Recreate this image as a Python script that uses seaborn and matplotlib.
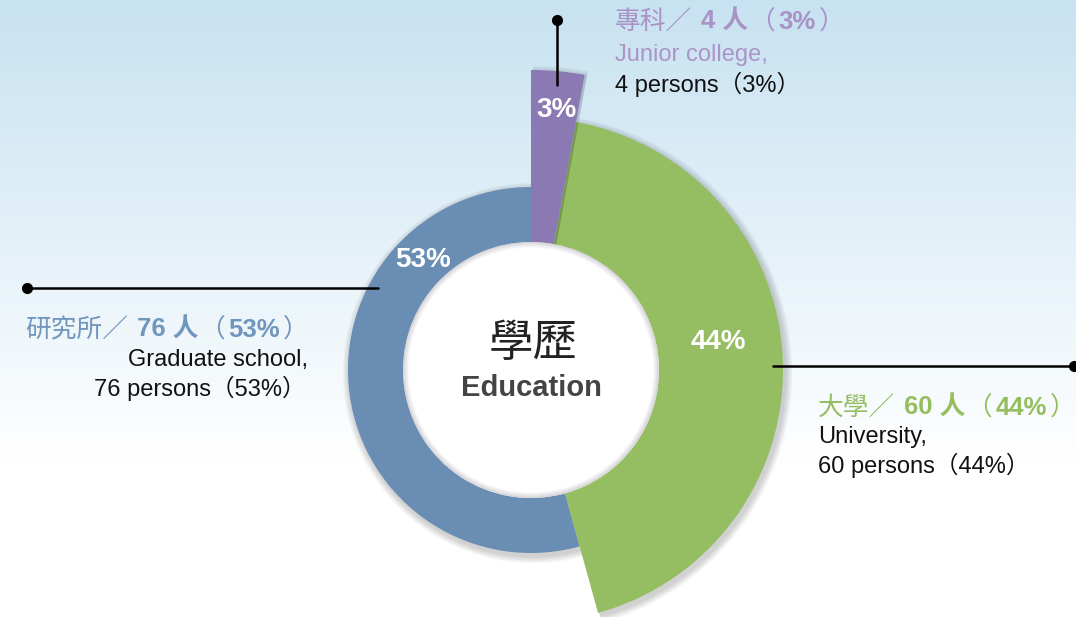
import numpy as np
import seaborn as sns
import matplotlib.pyplot as plt
from matplotlib.patches import Circle

# education levels, clockwise from 12 o'clock
levels_zh = ['專科', '大學', '研究所']
levels_en = ['Junior college', 'University', 'Graduate school']
persons = [4, 60, 76]
shares = [3, 44, 53]

ring_colors = ['#8b79b3', '#95bd61', '#6a8db4']
label_colors = ['#a992c6', '#94be60', '#7096be']
outer_r = [300, 252, 183]
inner_r = 128
cx, cy = 531, 370

sns.set_theme(style='white')
plt.rcParams['font.family'] = ['Liberation Sans', 'Noto Sans CJK TC', 'DejaVu Sans']

fig = plt.figure(figsize=(10.76, 6.17), dpi=100)
ax = fig.add_axes([0, 0, 1, 1])

# background gradient
h = 617
t = np.clip(np.linspace(0, 1, h) / 0.75, 0, 1)[:, None]
top = np.array([0.78, 0.886, 0.945])
bg = top + (np.array([1.0, 1.0, 1.0]) - top) * t
bg = np.repeat(bg[:, None, :], 2, axis=1).reshape(h, 2, 3)
ax.imshow(bg, extent=(0, 1076, 617, 0), aspect='auto', zorder=0)


def ring(i, r, colors, center, z, alpha=1.0):
    wedges, _ = ax.pie(persons, radius=r, center=center, startangle=-90,
                       counterclock=True, colors=colors,
                       wedgeprops=dict(width=r - inner_r, linewidth=0, alpha=alpha))
    for j, w in enumerate(wedges):
        w.set_visible(j == i)
        w.set_zorder(z)


# draw order: graduate school, university, junior college
for n, i in enumerate([2, 1, 0]):
    for k in range(1, 7):
        ring(i, outer_r[i] + k * 1.2, ['black'] * 3, (cx + 2, cy + 3), 2 + n * 2, alpha=0.03)
    ring(i, outer_r[i], ring_colors, (cx, cy), 3 + n * 2)

# center disc with soft inner shade
for k in range(8):
    g = 0.84 + 0.16 * k / 7
    ax.add_patch(Circle((cx, cy), inner_r - k * 0.8, color=(g, g, min(g + 0.01, 1)), zorder=20, lw=0))
ax.add_patch(Circle((cx, cy), inner_r - 7, color='white', zorder=20, lw=0))

ax.text(cx + 2, 344, '學歷', fontsize=32, color='#222222', ha='center', va='center', zorder=21)
ax.text(cx, 388, 'Education', fontsize=21, fontweight='bold', color='#444444',
        ha='center', va='center', zorder=21)

# percentage labels on the ring
pct_pos = [(556, 110), (718, 342), (423, 260)]
for i, (x, y) in enumerate(pct_pos):
    ax.text(x, y, f'{shares[i]}%', fontsize=20, fontweight='bold', color='white',
            ha='center', va='center', zorder=22)

# leader lines
ax.plot([557, 557], [20, 85], color='black', lw=1.8, zorder=23)
ax.plot([557], [20], 'o', color='black', ms=7, zorder=23)
ax.plot([27, 378], [288, 288], color='black', lw=1.8, zorder=23)
ax.plot([27], [288], 'o', color='black', ms=7, zorder=23)
ax.plot([773, 1074], [366, 366], color='black', lw=1.8, zorder=23)
ax.plot([1074], [366], 'o', color='black', ms=7, zorder=23, clip_on=False)


def rich(x, y, parts, color, size):
    # parts: (text, weight, gap in px before it)
    t = ax.text(x, y, parts[0][0], color=color, fontsize=size, fontweight=parts[0][1],
                ha='left', va='center', zorder=24)
    for s, w, gap in parts[1:]:
        t = ax.annotate(s, xy=(1, 0.5), xycoords=t, xytext=(gap * 0.72, 0),
                        textcoords='offset points', color=color, fontsize=size,
                        fontweight=w, ha='left', va='center', zorder=24)


def heading(i, x, y):
    rich(x, y, [(levels_zh[i] + '／', 'normal'), (f'{persons[i]} 人', 'bold', 9),
                ('（', 'normal', 1), (f'{shares[i]}%', 'bold', 3), ('）', 'normal', 3)],
         label_colors[i], 18.5)


def count_line(i):
    return f'{persons[i]} persons（{shares[i]}%）'


# junior college
heading(0, 615, 22)
ax.text(615, 55, levels_en[0] + ',', fontsize=17, color='#ab94c6', ha='left', va='center')
ax.text(615, 84, count_line(0), fontsize=17, color='#111111', ha='left', va='center')

# graduate school
heading(2, 25, 330)
ax.text(308, 360, levels_en[2] + ',', fontsize=17, color='#111111', ha='right', va='center')
ax.text(306, 388, count_line(2), fontsize=17, color='#111111', ha='right', va='center')

# university
heading(1, 818, 408)
ax.text(818, 437, levels_en[1] + ',', fontsize=17, color='#111111', ha='left', va='center')
ax.text(818, 465, count_line(1), fontsize=17, color='#111111', ha='left', va='center')

ax.set_xlim(0, 1076)
ax.set_ylim(617, 0)
ax.set_axis_off()

fig.savefig('out.png', dpi=100)
